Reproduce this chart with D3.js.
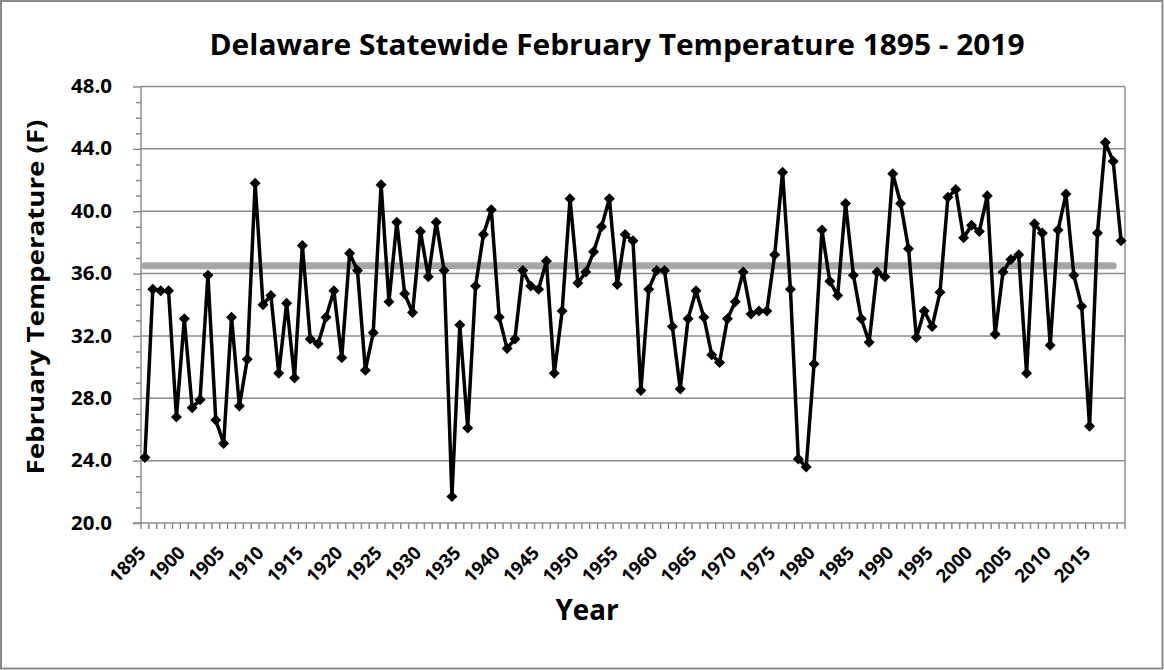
<!DOCTYPE html>
<html><head><meta charset="utf-8">
<script src="https://cdn.jsdelivr.net/npm/d3@7"></script>
<style>
html,body{margin:0;padding:0;background:#fff;}
svg{display:block;font-family:"Open Sans",Lato,sans-serif;}
</style></head>
<body>
<svg id="chart" width="1164" height="670"></svg>
<script>
// ---- data ----
const years = d3.range(1895, 2020);
const temps = [
 24.2,35.0,34.9,34.9,26.8,33.1,27.4,27.9,35.9,26.6,
 25.1,33.2,27.5,30.5,41.8,34.0,34.6,29.6,34.1,29.3,
 37.8,31.8,31.5,33.2,34.9,30.6,37.3,36.2,29.8,32.2,
 41.7,34.2,39.3,34.7,33.5,38.7,35.8,39.3,36.2,21.7,
 32.7,26.1,35.2,38.5,40.1,33.2,31.2,31.8,36.2,35.2,
 35.0,36.8,29.6,33.6,40.8,35.4,36.1,37.4,39.0,40.8,
 35.3,38.5,38.1,28.5,35.0,36.2,36.2,32.6,28.6,33.1,
 34.9,33.2,30.8,30.3,33.1,34.2,36.1,33.4,33.6,33.6,
 37.2,42.5,35.0,24.1,23.6,30.2,38.8,35.5,34.6,40.5,
 35.9,33.1,31.6,36.1,35.8,42.4,40.5,37.6,31.9,33.6,
 32.6,34.8,40.9,41.4,38.3,39.1,38.7,41.0,32.1,36.1,
 36.9,37.2,29.6,39.2,38.6,31.4,38.8,41.1,35.9,33.9,
 26.2,38.6,44.4,43.2,38.1
];
const meanYears = [1895, 2018];
const meanValue = 36.5;
const yTicks = [20, 24, 28, 32, 36, 40, 44, 48];
const xLabelYears = d3.range(1895, 2020, 5);
const title = "Delaware Statewide February Temperature 1895 - 2019";
const yTitle = "February Temperature (F)";
const xTitle = "Year";

// ---- layout ----
const W = 1164, H = 670;
const plot = {left: 141, right: 1125, top: 86.5, bottom: 523};
const svg = d3.select("#chart");
const grid = "#8c8c8c";

svg.append("rect").attr("x",1).attr("y",1).attr("width",W-2.5).attr("height",H-2.5)
  .attr("fill","#fff").attr("stroke","#8a8a8a").attr("stroke-width",2);

const x = d3.scaleBand().domain(years).range([plot.left, plot.right]);
const cx = d => x(d) + x.bandwidth()/2;
const y = d3.scaleLinear().domain([20, 48]).range([plot.bottom, plot.top]);

// gridlines
svg.append("g").selectAll("line").data(yTicks.filter(t=>t>20)).join("line")
  .attr("x1", plot.left).attr("x2", plot.right)
  .attr("y1", d=>y(d)).attr("y2", d=>y(d))
  .attr("stroke", grid).attr("stroke-width", 1.5);
// right border
svg.append("line").attr("x1",plot.right).attr("x2",plot.right)
  .attr("y1",plot.top).attr("y2",plot.bottom).attr("stroke",grid).attr("stroke-width",1.5);

// y axis
const yAxis = d3.axisLeft(y).tickValues(yTicks).tickSize(8).tickFormat(d3.format(".1f"));
const gy = svg.append("g").attr("transform",`translate(${plot.left},0)`).call(yAxis);
gy.select(".domain").attr("stroke",grid).attr("stroke-width",1.5).attr("d",`M0,${plot.top}V${plot.bottom}`);
gy.selectAll(".tick line").attr("stroke",grid).attr("stroke-width",1.5);
gy.selectAll(".tick text").attr("font-size",19).attr("font-weight","bold").attr("fill","#000")
  .attr("x",-29).attr("font-family","'Open Sans',sans-serif")
  .attr("textLength",41).attr("lengthAdjust","spacingAndGlyphs");
// minor y ticks
const minor = d3.range(20, 48.01, 1).filter(v => v % 4 !== 0);
svg.append("g").attr("transform",`translate(${plot.left},0)`)
  .call(d3.axisLeft(y).tickValues(minor).tickSize(5).tickFormat(""))
  .call(g=>{g.select(".domain").remove(); g.selectAll("line").attr("stroke",grid).attr("stroke-width",1.5);});

// x axis (ticks between categories)
const gx = svg.append("g").attr("transform",`translate(0,${plot.bottom})`);
gx.append("line").attr("x1",plot.left-8).attr("x2",plot.right).attr("stroke",grid).attr("stroke-width",1.5);
gx.selectAll("line.tk").data(years.concat([2020])).join("line").attr("class","tk")
  .attr("x1", d => d===2020 ? plot.right : x(d)).attr("x2", d => d===2020 ? plot.right : x(d))
  .attr("y1",0).attr("y2",6).attr("stroke",grid).attr("stroke-width",1.5);
gx.selectAll("text").data(xLabelYears).join("text")
  .attr("transform", d => `translate(${cx(d)+2},31) rotate(-45)`)
  .attr("text-anchor","end")
  .attr("font-size",18.5).attr("font-weight","bold").attr("fill","#000")
  .attr("textLength",42).attr("lengthAdjust","spacingAndGlyphs")
  .text(d=>d);

// mean line
svg.append("line")
  .attr("x1", cx(meanYears[0])).attr("x2", cx(meanYears[1]))
  .attr("y1", y(meanValue)).attr("y2", y(meanValue))
  .attr("stroke","#a6a6a6").attr("stroke-width",7).attr("stroke-linecap","round");

// data line
const line = d3.line().x((d,i)=>cx(years[i])).y(d=>y(d));
svg.append("path").datum(temps).attr("d", line)
  .attr("fill","none").attr("stroke","#000").attr("stroke-width",3.5).attr("stroke-linejoin","round");

// markers (diamonds)
const r = 5.5;
svg.append("g").selectAll("path").data(temps).join("path")
  .attr("d", `M0,${-r}L${r},0L0,${r}L${-r},0Z`)
  .attr("transform",(d,i)=>`translate(${cx(years[i])},${y(d)})`)
  .attr("fill","#000");

// titles
svg.append("text").attr("x",617).attr("y",55).attr("text-anchor","middle")
  .attr("font-size",28).attr("font-weight","bold").attr("fill","#000")
  .attr("textLength",815).attr("lengthAdjust","spacingAndGlyphs").text(title);
svg.append("text").attr("transform","translate(44,297) rotate(-90)").attr("text-anchor","middle")
  .attr("font-size",24).attr("font-weight","bold").attr("fill","#000")
  .attr("textLength",355).attr("lengthAdjust","spacingAndGlyphs").text(yTitle);
svg.append("text").attr("x",587).attr("y",620).attr("text-anchor","middle")
  .attr("font-size",29).attr("font-weight","bold").attr("fill","#000")
  .attr("textLength",63).attr("lengthAdjust","spacingAndGlyphs").text(xTitle);
</script>
</body></html>
